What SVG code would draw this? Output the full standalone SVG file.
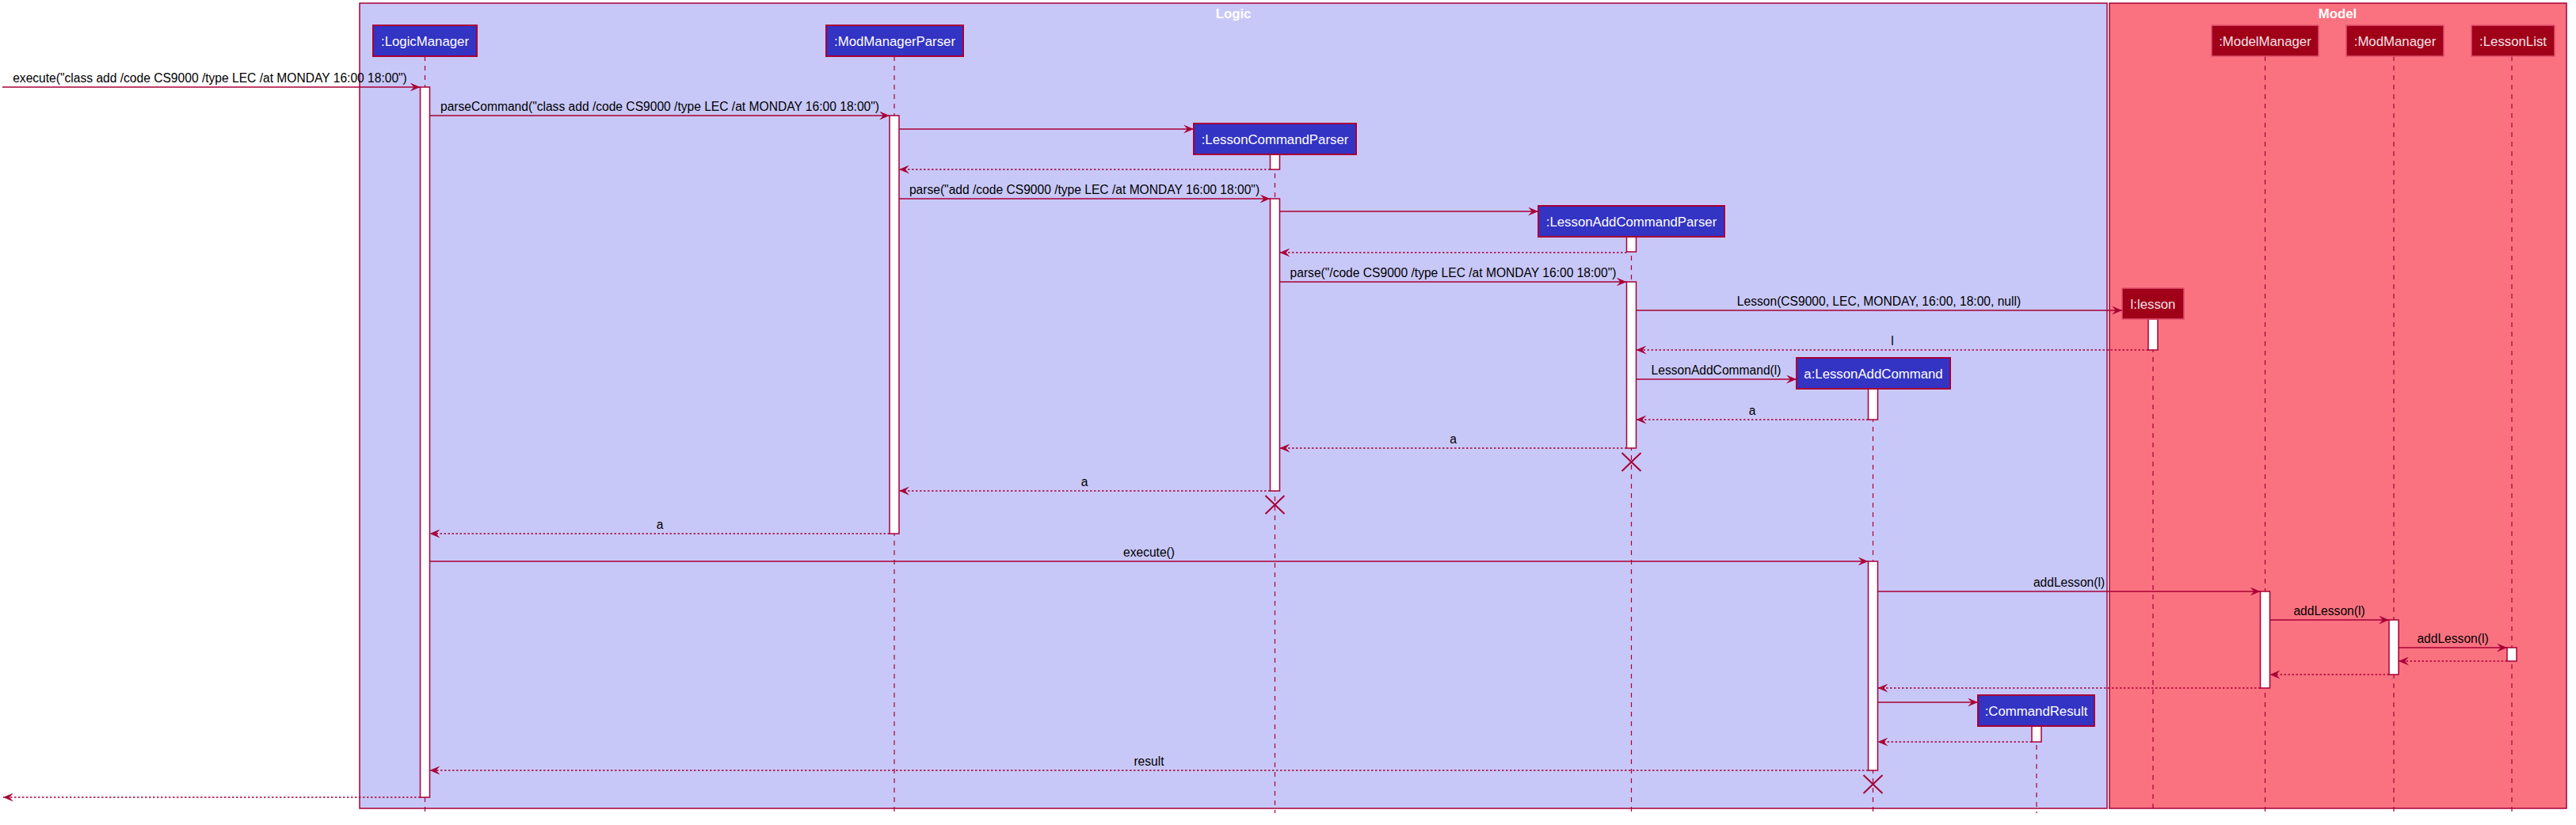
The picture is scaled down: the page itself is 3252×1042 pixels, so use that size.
<svg xmlns="http://www.w3.org/2000/svg" width="3252" height="1042" viewBox="0 0 3252 1042">
<defs>
<style>
.frL{fill:#C8C8F8;stroke:#A80036;stroke-width:1.5}
.frM{fill:#FA7280;stroke:#A80036;stroke-width:1.5}
.ftitle{font-family:"Liberation Sans",Arial,sans-serif;font-size:16.8px;font-weight:bold;fill:#FFFFFF;text-anchor:middle}
.life{stroke:#A80036;stroke-width:1.2;stroke-dasharray:6,6;fill:none}
.act{fill:#FFFFFF;stroke:#A80036;stroke-width:1.5}
.boxB{fill:#3333C4;stroke:#A80036;stroke-width:2}
.boxR{fill:#A00018;stroke:#E0506E;stroke-width:1.5}
.pt{font-family:"Liberation Sans",Arial,sans-serif;font-size:16.8px;text-anchor:middle;fill:#FFFFFF}
.ptR{font-family:"Liberation Sans",Arial,sans-serif;font-size:16.8px;text-anchor:middle;fill:#F6E2E6}
.msg{stroke:#A80036;stroke-width:1.5;fill:none;marker-end:url(#ah)}
.ret{stroke:#A80036;stroke-width:1.5;fill:none;stroke-dasharray:2.5,2.5;marker-end:url(#ah)}
.lbl{font-family:"Liberation Sans",Arial,sans-serif;font-size:15.6px;text-anchor:middle;fill:#000000}
.x{stroke:#A80036;stroke-width:2;fill:none}
</style>
<marker id="ah" markerUnits="userSpaceOnUse" viewBox="0 0 13 11" refX="13" refY="5.5" markerWidth="13" markerHeight="11" orient="auto">
<path d="M0,0 L13,5.5 L0,11 L5,5.5 Z" fill="#A80036"/>
</marker>
</defs>
<rect width="3252" height="1042" fill="#FFFFFF"/>
<g id="frames">
<g id="frame-logic">
<rect class="frL" x="454" y="4" width="2206" height="1017"/>
<text class="ftitle" x="1557" y="23">Logic</text>
</g>
<g id="frame-model">
<rect class="frM" x="2663" y="4" width="577" height="1017"/>
<text class="ftitle" x="2951" y="23">Model</text>
</g>
</g>
<g id="logicManager">
<line class="life" x1="536.5" y1="71" x2="536.5" y2="1027"/>
<rect class="act" x="530.5" y="110" width="12" height="897"/>
<rect class="boxB" x="471" y="32" width="131" height="39"/>
<text class="pt" x="536.5" y="57.5">:LogicManager</text>
</g>
<g id="modManagerParser">
<line class="life" x1="1129" y1="71" x2="1129" y2="1027"/>
<rect class="act" x="1123" y="146" width="12" height="528"/>
<rect class="boxB" x="1043" y="32" width="173" height="39"/>
<text class="pt" x="1129.5" y="57.5">:ModManagerParser</text>
</g>
<g id="lessonCommandParser">
<line class="life" x1="1609.5" y1="195" x2="1609.5" y2="1027"/>
<rect class="act" x="1603.5" y="195" width="12" height="19"/>
<rect class="act" x="1603.5" y="251" width="12" height="369"/>
<rect class="boxB" x="1507" y="156" width="205" height="39"/>
<text class="pt" x="1609.5" y="181.5">:LessonCommandParser</text>
</g>
<g id="lessonAddCommandParser">
<line class="life" x1="2059.5" y1="299" x2="2059.5" y2="1027"/>
<rect class="act" x="2053.5" y="299" width="12" height="19"/>
<rect class="act" x="2053.5" y="356" width="12" height="210"/>
<rect class="boxB" x="1942" y="260" width="235" height="39"/>
<text class="pt" x="2059.5" y="285.5">:LessonAddCommandParser</text>
</g>
<g id="lesson">
<line class="life" x1="2718" y1="403" x2="2718" y2="1027"/>
<rect class="act" x="2712" y="403" width="12" height="39"/>
<rect class="boxR" x="2679" y="364" width="78" height="39"/>
<text class="ptR" x="2718" y="389.5">l:lesson</text>
</g>
<g id="lessonAddCommand">
<line class="life" x1="2364.5" y1="491" x2="2364.5" y2="1027"/>
<rect class="act" x="2358.5" y="491" width="12" height="39"/>
<rect class="act" x="2358.5" y="709" width="12" height="264"/>
<rect class="boxB" x="2268" y="452" width="194" height="39"/>
<text class="pt" x="2365" y="477.5">a:LessonAddCommand</text>
</g>
<g id="commandResult">
<line class="life" x1="2571" y1="917" x2="2571" y2="1027"/>
<rect class="act" x="2565" y="917" width="12" height="20"/>
<rect class="boxB" x="2497" y="878" width="147" height="39"/>
<text class="pt" x="2570.5" y="903.5">:CommandResult</text>
</g>
<g id="modelManager">
<line class="life" x1="2859.5" y1="71" x2="2859.5" y2="1027"/>
<rect class="act" x="2853.5" y="747" width="12" height="122"/>
<rect class="boxR" x="2792" y="32" width="135" height="39"/>
<text class="ptR" x="2859.5" y="57.5">:ModelManager</text>
</g>
<g id="modManager">
<line class="life" x1="3022" y1="71" x2="3022" y2="1027"/>
<rect class="act" x="3016" y="783" width="12" height="69"/>
<rect class="boxR" x="2962" y="32" width="123" height="39"/>
<text class="ptR" x="3023.5" y="57.5">:ModManager</text>
</g>
<g id="lessonList">
<line class="life" x1="3171" y1="71" x2="3171" y2="1027"/>
<rect class="act" x="3165" y="818" width="12" height="17"/>
<rect class="boxR" x="3120" y="32" width="105" height="39"/>
<text class="ptR" x="3172.5" y="57.5">:LessonList</text>
</g>
<g id="connectors">
<line class="msg" x1="3" y1="110" x2="530.5" y2="110"/>
<text class="lbl" x="265" y="104">execute("class add /code CS9000 /type LEC /at MONDAY 16:00 18:00")</text>
<line class="msg" x1="542.5" y1="146" x2="1123" y2="146"/>
<text class="lbl" x="833" y="140">parseCommand("class add /code CS9000 /type LEC /at MONDAY 16:00 18:00")</text>
<line class="msg" x1="1135" y1="163" x2="1507" y2="163"/>
<line class="ret" x1="1603.5" y1="214" x2="1135" y2="214"/>
<line class="msg" x1="1135" y1="251" x2="1603.5" y2="251"/>
<text class="lbl" x="1369" y="245">parse("add /code CS9000 /type LEC /at MONDAY 16:00 18:00")</text>
<line class="msg" x1="1615.5" y1="267" x2="1942" y2="267"/>
<line class="ret" x1="2053.5" y1="319" x2="1615.5" y2="319"/>
<line class="msg" x1="1615.5" y1="356" x2="2053.5" y2="356"/>
<text class="lbl" x="1834.5" y="350">parse("/code CS9000 /type LEC /at MONDAY 16:00 18:00")</text>
<line class="msg" x1="2065.5" y1="392" x2="2679" y2="392"/>
<text class="lbl" x="2372" y="386">Lesson(CS9000, LEC, MONDAY, 16:00, 18:00, null)</text>
<line class="ret" x1="2712" y1="442" x2="2065.5" y2="442"/>
<text class="lbl" x="2389" y="436">l</text>
<line class="msg" x1="2065.5" y1="479" x2="2268" y2="479"/>
<text class="lbl" x="2166.5" y="473">LessonAddCommand(l)</text>
<line class="ret" x1="2358.5" y1="530" x2="2065.5" y2="530"/>
<text class="lbl" x="2212" y="524">a</text>
<line class="ret" x1="2053.5" y1="566" x2="1615.5" y2="566"/>
<text class="lbl" x="1834.5" y="560">a</text>
<path class="x" d="M2047.5,572 L2071.5,595 M2071.5,572 L2047.5,595"/>
<line class="ret" x1="1603.5" y1="620" x2="1135" y2="620"/>
<text class="lbl" x="1369" y="614">a</text>
<path class="x" d="M1597.5,626 L1621.5,649 M1621.5,626 L1597.5,649"/>
<line class="ret" x1="1123" y1="674" x2="542.5" y2="674"/>
<text class="lbl" x="833" y="668">a</text>
<line class="msg" x1="542.5" y1="709" x2="2358.5" y2="709"/>
<text class="lbl" x="1450.5" y="703">execute()</text>
<line class="msg" x1="2370.5" y1="747" x2="2853.5" y2="747"/>
<text class="lbl" x="2612" y="741">addLesson(l)</text>
<line class="msg" x1="2865.5" y1="783" x2="3016" y2="783"/>
<text class="lbl" x="2940.5" y="777">addLesson(l)</text>
<line class="msg" x1="3028" y1="818" x2="3165" y2="818"/>
<text class="lbl" x="3096.5" y="812">addLesson(l)</text>
<line class="ret" x1="3165" y1="835" x2="3028" y2="835"/>
<line class="ret" x1="3016" y1="852" x2="2865.5" y2="852"/>
<line class="ret" x1="2853.5" y1="869" x2="2370.5" y2="869"/>
<line class="msg" x1="2370.5" y1="887" x2="2497" y2="887"/>
<line class="ret" x1="2565" y1="937" x2="2370.5" y2="937"/>
<line class="ret" x1="2358.5" y1="973" x2="542.5" y2="973"/>
<text class="lbl" x="1450.5" y="967">result</text>
<path class="x" d="M2352.5,979 L2376.5,1002 M2376.5,979 L2352.5,1002"/>
<line class="ret" x1="530.5" y1="1007" x2="4" y2="1007"/>
</g>
</svg>
